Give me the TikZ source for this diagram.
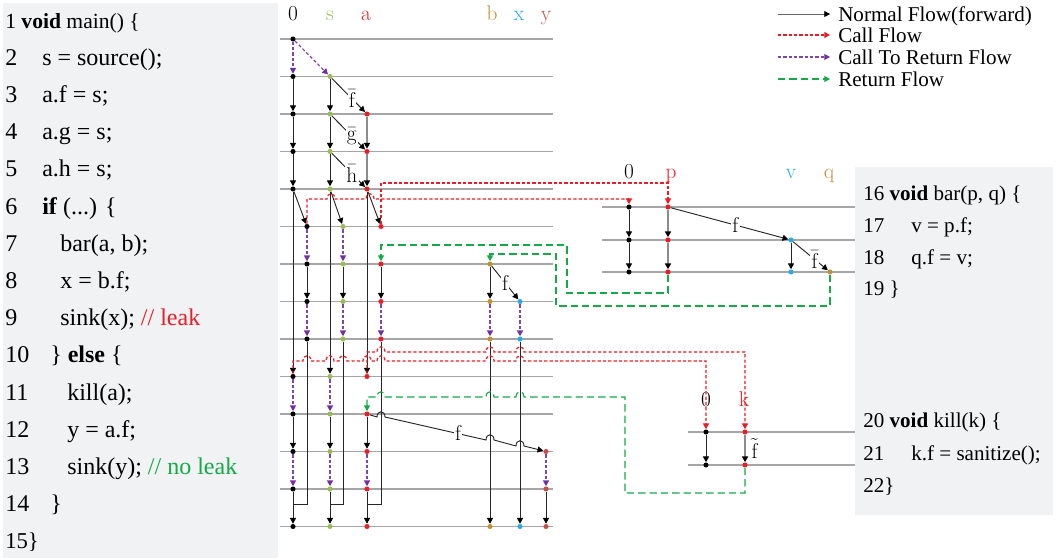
\documentclass[tikz,border=0pt]{standalone}
\usepackage{amsmath}
\usepackage{fontspec}
\newfontfamily\codefont{Liberation Serif}
\usetikzlibrary{arrows.meta,calc}
\definecolor{srcGreen}{RGB}{155,187,89}
\definecolor{tntRed}{RGB}{237,28,36}
\definecolor{bGold}{RGB}{191,145,50}
\definecolor{xBlue}{RGB}{41,171,226}
\definecolor{yRed}{RGB}{200,78,72}
\definecolor{ctrPurple}{RGB}{112,48,160}
\definecolor{retGreen}{RGB}{20,170,70}
\definecolor{panelGray}{RGB}{241,242,244}
\colorlet{call-color}{tntRed}
\colorlet{ctr-color}{ctrPurple!90}
\colorlet{row-color}{black!35}
\tikzset{
  fact/.style={circle,inner sep=0pt,minimum size=3.8pt},
  row/.style={draw=row-color,line width=1pt},
  nf/.style={draw=black!85,line width=0.7pt,-{Triangle[length=4.3pt,width=4.5pt,color=black]}},
  nfg/.style={nf,draw=black!45,line width=1.1pt},
  cf/.style={draw=call-color,line width=0.9pt,dash pattern=on 2.4pt off 1.6pt,-{Triangle[length=4.3pt,width=4.5pt,color=call-color]}},
  ctr/.style={draw=ctr-color,line width=0.9pt,dash pattern=on 2.4pt off 1.6pt,-{Triangle[length=4.3pt,width=4.5pt,color=ctrPurple]}},
  rf/.style={draw=retGreen,line width=0.85pt,dash pattern=on 5.5pt off 3pt,-{Triangle[length=4.3pt,width=4.5pt]}},
  lab/.style={anchor=base,inner sep=0pt,font=\fontsize{16}{19}\selectfont},
  lbl/.style={fill=white,inner sep=1pt,font=\fontsize{16}{19}\selectfont},
  code/.style={anchor=base west,inner sep=0pt,font=\codefont\fontsize{18}{21}\selectfont},
  codeR/.style={anchor=base west,inner sep=0pt,font=\codefont\fontsize{15.8}{19}\selectfont}
}
\newcommand{\fct}[3]{\node[fact,fill=#3] (#1) at (#2) {};}
\newcommand{\codeline}[6][code]{\node[#1] (n#2) at (#3,#4) {#2}; \node[#1] (c#2) at (#5,#4) {#6};}
\newcommand{\hop}[2]{-- ({#1-4},#2) .. controls ({#1-4},{#2-7}) and ({#1+4},{#2-7}) .. ({#1+4},#2)}
\newcommand{\hopl}[2]{-- ({#1+4},#2) .. controls ({#1+4},{#2-7}) and ({#1-4},{#2-7}) .. ({#1-4},#2)}

\begin{document}
\begin{tikzpicture}[x=0.75pt,y=-0.75pt]
  \useasboundingbox (0,0) rectangle (1059,558);
  \fill[panelGray] (3,3) rectangle (278,558);
  \fill[panelGray] (855,167) rectangle (1053,515);
  \foreach \r in {1,...,14} {\draw[row] (280,{39+37.5*(\r-1)}) -- (553,{39+37.5*(\r-1)});}
  \foreach \yy in {207,240,272} {\draw[row] (602,\yy) -- (855,\yy);}
  \foreach \yy in {432,465} {\draw[row] (688,\yy) -- (855,\yy);}
  \node[code,font=\codefont\fontsize{16.2}{19}\selectfont] (c1) at (5,28) {1 \textbf{void} main() \{};
  \codeline{2}{5}{65.2}{42}{s = source();}
  \codeline{3}{5}{102.4}{42}{a.f = s;}
  \codeline{4}{5}{139.6}{42}{a.g = s;}
  \codeline{5}{5}{176.8}{42}{a.h = s;}
  \codeline{6}{5}{214}{42}{\textbf{if} (...) \{}
  \codeline{7}{5}{251.2}{60}{bar(a, b);}
  \codeline{8}{5}{288.4}{60}{x = b.f;}
  \codeline{9}{5}{325.6}{60}{sink(x); \textcolor{tntRed}{// leak}}
  \codeline{10}{5}{362.8}{50}{\} \textbf{else} \{}
  \codeline{11}{5}{400}{67}{kill(a);}
  \codeline{12}{5}{437.2}{67}{y = a.f;}
  \codeline{13}{5}{474.4}{67}{sink(y); \textcolor{retGreen}{// no leak}}
  \codeline{14}{5}{511.6}{50}{\}}
  \node[code,font=\codefont\fontsize{17}{20}\selectfont] (c15) at (5,548.8) {15\}};
  \node[codeR] (c16) at (863,200) {16 \textbf{void} bar(p, q) \{};
  \codeline[codeR]{17}{863}{232}{911}{v = p.f;}
  \codeline[codeR]{18}{863}{264}{911}{q.f = v;}
  \node[codeR] (c19) at (863,295) {19 \}};
  \node[codeR] (c20) at (863,427) {20 \textbf{void} kill(k) \{};
  \codeline[codeR]{21}{863}{460}{911}{k.f = sanitize();}
  \node[codeR] (c22) at (863,492) {22\}};
  \node[lab] (lz) at (293,20) {0};
  \node[lab,text=srcGreen] (ls) at (330,20) {s};
  \node[lab,text=tntRed] (la) at (366,20) {a};
  \node[lab,text=bGold] (lb) at (492,20) {b};
  \node[lab,text=xBlue] (lx) at (519,20) {x};
  \node[lab,text=yRed] (ly) at (546,20) {y};
  \node[lab] (lbz) at (629,178) {0};
  \node[lab,text=tntRed] (lp) at (671,178) {p};
  \node[lab,text=xBlue] (lv) at (791,178) {v};
  \node[lab,text=bGold] (lq) at (829,178) {q};
  \node[lab] (lkz) at (706,406) {0};
  \node[lab,text=tntRed] (lk) at (744,406) {k};
  \foreach \r in {1,2,3,4,5,10,11,12,13,14} {\fct{z\r}{293,{39+37.5*(\r-1)}}{black}}
  \foreach \r in {2,3,4,5,10,11,12,13,14} {\fct{s\r}{330,{39+37.5*(\r-1)}}{srcGreen}}
  \foreach \r in {3,4,5,10,11,12,13,14} {\fct{a\r}{367,{39+37.5*(\r-1)}}{tntRed}}
  \foreach \r in {6,7,8,9} {\fct{tz\r}{307,{39+37.5*(\r-1)}}{black} \fct{ts\r}{343,{39+37.5*(\r-1)}}{srcGreen} \fct{ta\r}{381,{39+37.5*(\r-1)}}{tntRed}}
  \foreach \r in {7,8,9,14} {\fct{b\r}{490,{39+37.5*(\r-1)}}{bGold}}
  \foreach \r in {8,9,14} {\fct{x\r}{520,{39+37.5*(\r-1)}}{xBlue}}
  \foreach \r in {12,13,14} {\fct{y\r}{546,{39+37.5*(\r-1)}}{yRed}}
  \foreach \r/\yy in {1/207,2/240,3/272} {\fct{bz\r}{629,\yy}{black} \fct{p\r}{668,\yy}{tntRed}}
  \fct{v2}{791,240}{xBlue}
  \fct{v3}{791,272}{xBlue}
  \fct{q3}{830,272}{bGold}
  \fct{kz1}{706,432}{black}
  \fct{kz2}{706,465}{black}
  \fct{k1}{745,432}{tntRed}
  \fct{k2}{745,465}{tntRed}
  \draw[ctr] (z1) -- (z2);
  \draw[ctr] (z1) -- (s2);
  \foreach \c in {z,s} {\foreach \u/\w in {2/3,3/4,4/5} {\draw[nf] (\c\u) -- (\c\w);}}
  \draw[nfg] (a3) -- (a4);
  \draw[nfg] (a4) -- (a5);
  \draw[nf] (s2) -- node[lbl,pos=0.6] {$\bar{\mathrm{f}}$} (a3);
  \draw[nf] (s3) -- node[lbl,pos=0.6] {$\bar{\mathrm{g}}$} (a4);
  \draw[nf] (s4) -- node[lbl,pos=0.6] {$\bar{\mathrm{h}}$} (a5);
  \foreach \c in {z,s,a} {
    \draw[nf] (\c5) -- (t\c6);
    \draw[nf] (\c5) -- (\c10);
    \draw[nf] (t\c7) -- (t\c8);
    \draw[ctr] (t\c8) -- (t\c9);
    \draw[nf,-] (t\c9) |- ($(\c13)!0.4!(\c14)$);
    \draw[nf] (\c11) -- (\c12);
    \draw[ctr] (\c12) -- (\c13);
    \draw[nf] (\c13) -- (\c14);
  }
  \foreach \c in {z,s} {\draw[ctr] (t\c6) -- (t\c7); \draw[ctr] (\c10) -- (\c11);}
  \draw[nf] (b7) -- (b8);
  \draw[nf] (b7) -- node[lbl,pos=0.5] {f} (x8);
  \draw[ctr] (b8) -- (b9);
  \draw[ctr] (x8) -- (x9);
  \draw[nf] (b9) -- (b14);
  \draw[nf] (x9) -- (x14);
  \draw[nf] (a11) \hop{381}{417} \hop{490}{440} \hop{520}{446} -- (y12);
  \node[lbl] (fy) at (458,433) {f};
  \draw[ctr] (y12) -- (y13);
  \draw[nf] (y13) -- (y14);
  \draw[nf] (bz1) -- (bz2);
  \draw[nf] (bz2) -- (bz3);
  \draw[nfg] (p1) -- (p2);
  \draw[nfg] (p2) -- (p3);
  \draw[nf] (p1) -- node[lbl,pos=0.55] {f} (v2);
  \draw[nf] (v2) -- (v3);
  \draw[nf] (v2) -- node[lbl,pos=0.62] {$\bar{\mathrm{f}}$} (q3);
  \draw[nf] (kz1) -- (kz2);
  \draw[nfg] (k1) -- node[right=1pt,font=\fontsize{16}{19}\selectfont] {$\tilde{\mathrm{f}}$} (k2);
  \draw[cf] (tz6) -- (307,199) \hop{331}{199} \hop{370}{199} -| (bz1);
  \draw[cf] (ta6) -- (381,183) -| (p1);
  \draw[cf] (z10) -- (293,361) \hop{307}{361} \hop{330}{361} \hop{343}{361} \hop{367}{361} \hop{381}{361} \hop{490}{361} \hop{520}{361} -| (kz1);
  \draw[cf] (a10) -- (367,352) \hop{381}{352} \hop{490}{352} \hop{520}{352} -| (k1);
  \draw[rf] (p3) -- (668,293) -- (567,293) -- (567,245) -| (ta7);
  \draw[rf] (q3) -- (830,306) -- (556,306) -- (556,254) -| (b7);
  \draw[rf] (k2) -- (745,493) -- (625,493) -- (625,397) \hopl{520}{397} \hopl{490}{397} \hopl{381}{397} -| (a11);
  \coordinate (lg1) at (778,14);
  \coordinate (lh1) at (830,14);
  \coordinate (lg2) at (778,35);
  \coordinate (lh2) at (830,35);
  \coordinate (lg3) at (778,57);
  \coordinate (lh3) at (830,57);
  \coordinate (lg4) at (778,79);
  \coordinate (lh4) at (830,79);
  \draw[nf,draw=black!60] (lg1) -- (lh1);
  \draw[cf] (lg2) -- (lh2);
  \draw[ctr] (lg3) -- (lh3);
  \draw[rf] (lg4) -- (lh4);
  \node[codeR] (lt1) at (838,21) {Normal Flow(forward)};
  \node[codeR] (lt2) at (838,42) {Call Flow};
  \node[codeR] (lt3) at (838,64) {Call To Return Flow};
  \node[codeR] (lt4) at (838,86) {Return Flow};
\end{tikzpicture}
\end{document}
